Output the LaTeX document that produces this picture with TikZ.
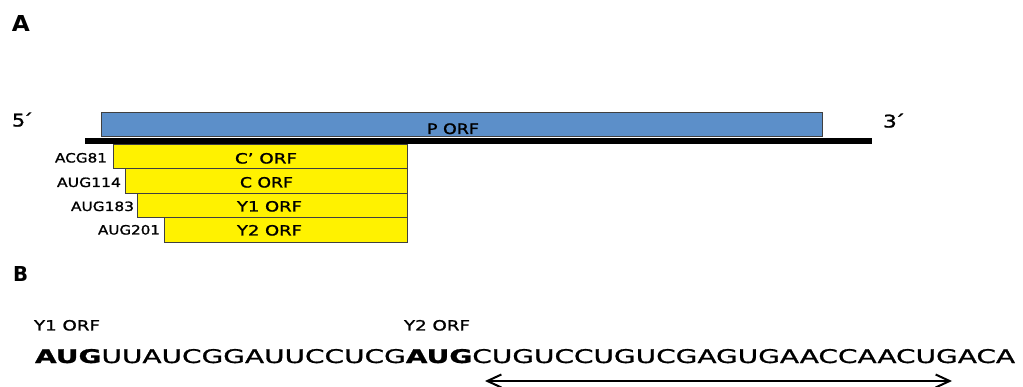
\documentclass[tikz,border=0pt]{standalone}
\usepackage{fontspec}
\setmainfont{DejaVu Sans}
\newfontfamily\labelfont[FakeBold=1.2]{DejaVu Sans}
\newfontfamily\seqfont[FakeBold=0.9]{DejaVu Sans}
\usepackage{graphicx}
\usetikzlibrary{arrows.meta}
\definecolor{orfblue}{RGB}{92,143,201}
\definecolor{edgegray}{RGB}{64,64,64}
% scale a piece of text to a given width and cap height (in pt)
\newcommand{\fitbox}[3]{\resizebox{#1pt}{#2pt}{#3}}

\begin{document}
\begin{tikzpicture}[x=1pt,y=-1pt,
  txt/.style={inner sep=0pt, outer sep=0pt, font=\labelfont},
  panel/.style={inner sep=0pt, outer sep=0pt, font=\normalfont\bfseries, anchor=base west},
  ybox/.style={draw=edgegray, line width=0.8pt, fill=yellow, inner sep=0pt,
               outer sep=0pt, anchor=north east, minimum height=24.4pt},
  bbox/.style={draw=edgegray, line width=0.8pt, fill=orfblue, inner sep=0pt,
               outer sep=0pt, anchor=north west},
  spanline/.style={line width=2pt, >={Straight Barb[length=14pt,width=13pt]}, <->},
]
\useasboundingbox (0,0) rectangle (1023,387);

% panel letters
\node[panel] (panelA) at (12,31.5) {\fitbox{18}{16}{A}};
\node[panel] (panelB) at (13,281.5) {\fitbox{15}{15}{B}};

% genome strand with its ends
\coordinate (strand5) at (85,141);
\coordinate (strand3) at (872,141);
\draw[line width=6pt] (strand5) -- (strand3);
\node[txt, anchor=base west] (end5) at (12,126.5) {\fitbox{21}{14}{5\kern-0.12em´}};
\node[txt, anchor=base west] (end3) at (883,127.5) {\fitbox{22}{14}{3\kern-0.12em´}};

% P open reading frame
\node[bbox, minimum width=721pt, minimum height=24pt] (porf) at (101,112) {};
\node[txt, anchor=base west] (porflbl) at (427,134) {\fitbox{52}{10.7}{P ORF}};

% nested reading frames
\node[ybox, minimum width=294pt] (cporf) at (407,144.5) {};
\node[ybox, minimum width=282pt] (corf)  at (407,168.9) {};
\node[ybox, minimum width=270pt] (yaorf) at (407,193.3) {};
\node[ybox, minimum width=242.5pt] (yborf) at (407,217.7) {};

\node[txt, anchor=base] (cplbl) at (266,163.5) {\fitbox{62}{10.5}{C’ ORF}};
\node[txt, anchor=base] (clbl)  at (266.5,187.5) {\fitbox{53}{10.5}{C ORF}};
\node[txt, anchor=base] (yalbl) at (269.5,211.5) {\fitbox{65}{10.5}{Y1 ORF}};
\node[txt, anchor=base] (yblbl) at (269.5,235.5) {\fitbox{65}{10.5}{Y2 ORF}};

% start codons
\node[txt, anchor=base east] (s81)  at (107,162.5) {\fitbox{52}{9.5}{ACG81}};
\node[txt, anchor=base east] (s114) at (121,187)   {\fitbox{64}{9.5}{AUG114}};
\node[txt, anchor=base east] (s183) at (134,211)   {\fitbox{63}{9.5}{AUG183}};
\node[txt, anchor=base east] (s201) at (160,234.5) {\fitbox{62}{9.5}{AUG201}};

% sequence around the Y1 and Y2 starts
\node[txt, anchor=base west] (y1tag) at (34,330.5)  {\fitbox{66}{10.5}{Y1 ORF}};
\node[txt, anchor=base west] (y2tag) at (404,330.5) {\fitbox{66}{10.5}{Y2 ORF}};
\node[txt, anchor=base west, font=\seqfont] (seq) at (35,363)
  {\fitbox{980}{14}{\textbf{AUG}UUAUCGGAUUCCUCG\textbf{AUG}CUGUCCUGUCGAGUGAACCAACUGACA}};

% span marker under the sequence
\coordinate (spanL) at (485,381);
\coordinate (spanR) at (952,381);
\draw[spanline] (spanL) -- (spanR);
\end{tikzpicture}
\end{document}
